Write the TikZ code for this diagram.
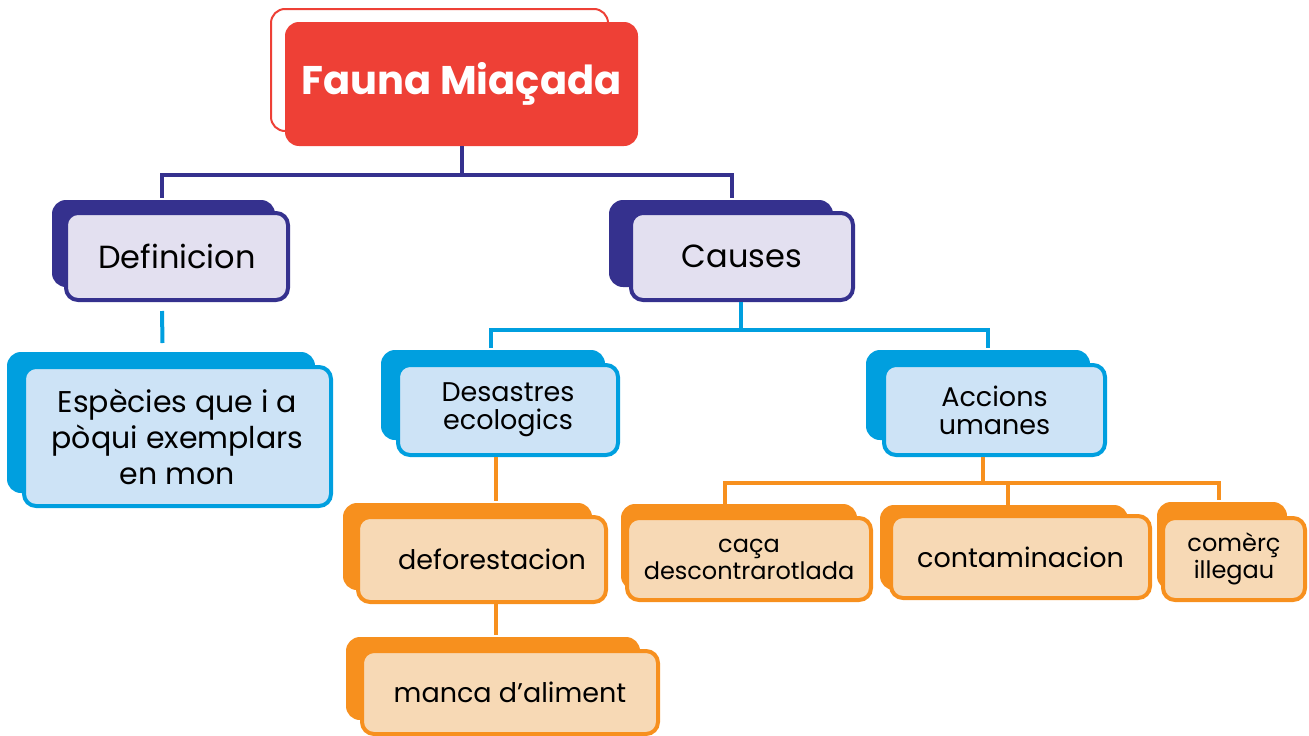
\documentclass[tikz,border=0pt]{standalone}
\usepackage{fontspec}
\setmainfont{Poppins}
\definecolor{cred}{HTML}{EE4036}
\definecolor{cnavy}{HTML}{35318E}
\definecolor{clav}{HTML}{E3E0F0}
\definecolor{cblue}{HTML}{009FDF}
\definecolor{clblue}{HTML}{CDE3F6}
\definecolor{corange}{HTML}{F7901E}
\definecolor{cpeach}{HTML}{F7D9B5}
\tikzset{
  backshape/.style={fill=#1, rounded corners=14pt},
  frontbox/.style 2 args={draw=#1, fill=#2, line width=4pt, rounded corners=12pt,
     inner sep=0pt, align=center, text=black},
  conn/.style={draw=#1, line width=4pt},
  big/.style={font=\fontsize{32}{36}\selectfont},
  mid/.style={font=\fontsize{27}{28}\selectfont},
  esptext/.style={font=\fontsize{30}{36}\selectfont},
  small/.style={font=\fontsize{24}{27}\selectfont},
}
\begin{document}
\begin{tikzpicture}[x=1pt,y=-1pt]
\useasboundingbox (0,0) rectangle (1309,736);
% title
\draw[draw=cred, fill=white, line width=2pt, rounded corners=14pt] (271,9) rectangle (608,131);
\node[fill=cred, rounded corners=14pt, minimum width=353pt, minimum height=124pt, inner sep=0pt,
      text=white, font=\fontsize{40}{40}\selectfont\bfseries] (title) at (461.5,84) {Fauna Miaçada};
% level 1
\fill[backshape=cnavy] (52,200) rectangle (275,287);
\node[frontbox={cnavy}{clav}, minimum width=222pt, minimum height=87pt, big] (def) at (177,256.5) {Definicion};
\fill[backshape=cnavy] (609,200) rectangle (833,287);
\node[frontbox={cnavy}{clav}, minimum width=222pt, minimum height=87pt, big] (cau) at (742,256.5) {Causes};
% level 2
\fill[backshape=cblue] (7,352) rectangle (315,493);
\node[frontbox={cblue}{clblue}, minimum width=307pt, minimum height=139pt, esptext] (esp) at (177.5,436.5) {Espècies que i a\\pòqui exemplars\\en mon};
\fill[backshape=cblue] (381,350) rectangle (605,440);
\node[frontbox={cblue}{clblue}, minimum width=220pt, minimum height=90pt, mid] (des) at (508,410) {Desastres\\ecologics};
\fill[backshape=cblue] (866,350) rectangle (1090,440);
\node[frontbox={cblue}{clblue}, minimum width=221pt, minimum height=90pt, mid] (acc) at (994.5,410) {Accions\\umanes};
% level 3
\fill[backshape=corange] (343,503) rectangle (592,590);
\node[frontbox={corange}{cpeach}, minimum width=248pt, minimum height=85pt, mid] (defo) at (482,559.5) {\hspace*{20pt}deforestacion};
\fill[backshape=corange] (346,637) rectangle (640,720);
\node[frontbox={corange}{cpeach}, minimum width=296pt, minimum height=83pt, mid] (manca) at (510,692.5) {manca d'aliment};
\fill[backshape=corange] (621,504) rectangle (857,590);
\node[frontbox={corange}{cpeach}, minimum width=244pt, minimum height=82pt, small] (caca) at (749,559) {caça\\descontrarotlada};
\fill[backshape=corange] (880,505) rectangle (1128,590);
\node[frontbox={corange}{cpeach}, minimum width=259pt, minimum height=82pt, mid] (cont) at (1020.5,557) {contaminacion};
\fill[backshape=corange] (1157,502) rectangle (1287,590);
\node[frontbox={corange}{cpeach}, minimum width=142pt, minimum height=82pt, small] (com) at (1234,559) {comèrç\\illegau};
% connectors
\draw[conn=cnavy] (title.south) -- (title.south |- 0,175) -| ([xshift=-15pt,yshift=13pt]def.north);
\draw[conn=cnavy] (title.south |- 0,175) -| ([xshift=-10pt,yshift=13pt]cau.north);
\draw[conn=cblue] ([xshift=-15pt,yshift=-9pt]def.south) -- ([xshift=-15pt,yshift=22pt]esp.north);
\draw[conn=cblue] ([xshift=-1pt]cau.south) -- ([xshift=-1pt]cau.south |- 0,330) -| ([xshift=-17pt,yshift=15pt]des.north);
\draw[conn=cblue] ([xshift=-1pt]cau.south |- 0,330) -| ([xshift=-6.5pt,yshift=15pt]acc.north);
\draw[conn=corange] ([xshift=-12pt]des.south) -- ([xshift=14pt,yshift=14pt]defo.north);
\draw[conn=corange] ([xshift=14pt]defo.south) -- ([xshift=-14pt,yshift=14pt]manca.north);
\draw[conn=corange] ([xshift=-11.5pt]acc.south) -- ([xshift=-11.5pt]acc.south |- 0,483) -| ([xshift=-24pt,yshift=12pt]caca.north);
\draw[conn=corange] ([xshift=-11.5pt]acc.south |- 0,483) -| ([xshift=-12.5pt,yshift=9pt]cont.north);
\draw[conn=corange] ([xshift=-11.5pt]acc.south |- 0,483) -| ([xshift=-15pt,yshift=16pt]com.north);
\end{tikzpicture}
\end{document}
